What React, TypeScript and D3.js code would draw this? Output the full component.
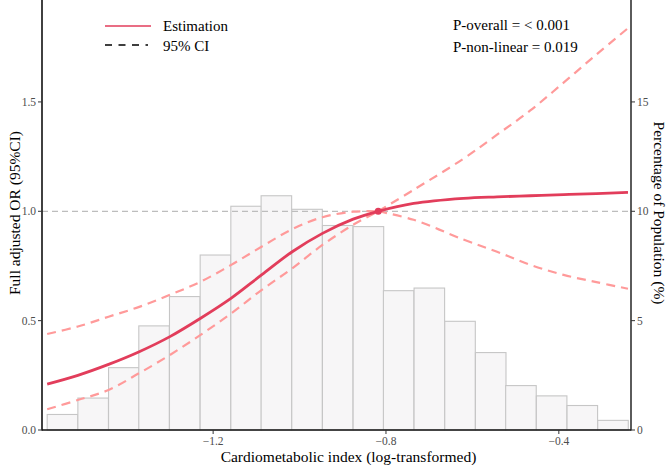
import React from "react";
import * as d3 from "d3";

const W = 669;
const H = 465;

// Histogram (percentage of population)
const binLefts = [-1.584, -1.513, -1.442, -1.372, -1.301, -1.23, -1.159, -1.089, -1.018, -0.947, -0.876, -0.806, -0.735, -0.664, -0.593, -0.523, -0.452, -0.381, -0.31];
const binWidth = 0.0707;
const binPct = [0.71, 1.46, 2.85, 4.76, 6.1, 8.0, 10.23, 10.71, 10.09, 9.35, 9.3, 6.37, 6.49, 4.97, 3.54, 2.03, 1.56, 1.12, 0.44];

// Spline estimate with 95% CI
const xGrid = [-1.584, -1.513, -1.442, -1.371, -1.3, -1.229, -1.158, -1.088, -1.017, -0.947, -0.876, -0.818, -0.736, -0.621, -0.543, -0.466, -0.389, -0.313, -0.24];
const estOR = [0.21, 0.25, 0.3, 0.358, 0.427, 0.511, 0.603, 0.709, 0.815, 0.899, 0.964, 1.0, 1.036, 1.059, 1.066, 1.071, 1.076, 1.081, 1.086];
const upperOR = [0.439, 0.473, 0.518, 0.563, 0.618, 0.678, 0.755, 0.838, 0.918, 0.973, 0.998, 1.0, 1.098, 1.24, 1.35, 1.461, 1.588, 1.717, 1.837];
const lowerOR = [0.095, 0.137, 0.183, 0.26, 0.343, 0.435, 0.533, 0.64, 0.739, 0.846, 0.938, 1.0, 0.961, 0.871, 0.815, 0.755, 0.709, 0.676, 0.646];
const refX = -0.818;
const refOR = 1.0;

const xTicks = [-1.2, -0.8, -0.4];
const yTicks = [0, 0.5, 1.0, 1.5];
const pctTicks = [0, 5, 10, 15];

const legendLabels = ["Estimation", "95% CI"];
const pTexts = ["P-overall = < 0.001", "P-non-linear = 0.019"];

const FONT = "'Liberation Serif', 'Times New Roman', serif";
const EST_COLOR = "#E23D5B";
const CI_COLOR = "#FF9A9A";

export default function App() {
  const left = 42;
  const right = 631;
  const top = 0;
  const bottom = 430;

  const x = d3.scaleLinear().domain([-1.596, -0.233]).range([left, right]);
  const y = d3.scaleLinear().domain([0, 1.966]).range([bottom, top]);
  const yPct = d3.scaleLinear().domain([0, 19.66]).range([bottom, top]);

  const pts = (vals: number[]) => xGrid.map((xv, i) => [xv, vals[i]] as [number, number]);
  const line = d3
    .line<[number, number]>()
    .x((d) => x(d[0]))
    .y((d) => y(d[1]))
    .curve(d3.curveCatmullRom.alpha(0.5));

  const splitPaths = (vals: number[]) => {
    const p = pts(vals);
    const l = p.filter((d) => d[0] <= refX);
    const r = p.filter((d) => d[0] >= refX);
    return [line(l) || "", line(r) || ""];
  };

  const estPath = line(pts(estOR)) || "";
  const upPaths = splitPaths(upperOR);
  const loPaths = splitPaths(lowerOR);

  const titleY = 213;

  return (
    <svg
      width={W}
      height={H}
      style={{ position: "absolute", left: 0, top: 0, background: "#fff" }}
      fontFamily={FONT}
    >
      {/* histogram */}
      <g>
        {binLefts.map((b, i) => (
          <rect
            key={i}
            x={x(b)}
            y={yPct(binPct[i])}
            width={x(b + binWidth) - x(b)}
            height={yPct(0) - yPct(binPct[i])}
            fill="#F7F6F7"
            stroke="#C6C6C6"
            strokeWidth={1.1}
          />
        ))}
      </g>

      {/* reference line */}
      <line x1={left} x2={right} y1={y(1)} y2={y(1)} stroke="#BDBDBD" strokeWidth={1.2} strokeDasharray="6,4" />

      {/* CI */}
      {[...upPaths, ...loPaths].map((d, i) => (
        <path key={i} d={d} fill="none" stroke={CI_COLOR} strokeWidth={2.2} strokeDasharray="9,6" />
      ))}

      {/* estimate */}
      <path d={estPath} fill="none" stroke={EST_COLOR} strokeWidth={2.8} />
      <circle cx={x(refX)} cy={y(refOR)} r={3.5} fill={EST_COLOR} />

      {/* axes */}
      <line x1={left} x2={left} y1={top} y2={bottom + 0.5} stroke="#111" strokeWidth={1.6} />
      <line x1={right} x2={right} y1={top} y2={bottom + 0.5} stroke="#333" strokeWidth={1.6} />
      <line x1={left} x2={right} y1={bottom} y2={bottom} stroke="#111" strokeWidth={1.6} />

      {yTicks.map((t) => (
        <g key={t}>
          <line x1={left - 4} x2={left} y1={y(t)} y2={y(t)} stroke="#333" strokeWidth={1} />
          <text x={left - 6} y={y(t)} dy="0.35em" textAnchor="end" fontSize={11.5} fill="#4D4D4D">
            {d3.format(".1f")(t)}
          </text>
        </g>
      ))}
      {pctTicks.map((t) => (
        <g key={t}>
          <line x1={right} x2={right + 4} y1={yPct(t)} y2={yPct(t)} stroke="#333" strokeWidth={1} />
          <text x={right + 6} y={yPct(t)} dy="0.35em" textAnchor="start" fontSize={11.5} fill="#4D4D4D">
            {t}
          </text>
        </g>
      ))}
      {xTicks.map((t) => (
        <g key={t}>
          <line x1={x(t)} x2={x(t)} y1={bottom} y2={bottom + 4} stroke="#333" strokeWidth={1} />
          <text x={x(t)} y={bottom + 11} dy="0.35em" textAnchor="middle" fontSize={11.5} fill="#4D4D4D">
            {d3.format(".1f")(t)}
          </text>
        </g>
      ))}

      {/* axis titles */}
      <text x={(left + right) / 2 + 12} y={462} textAnchor="middle" fontSize={15.5} fill="#000">
        Cardiometabolic index (log-transformed)
      </text>
      <text
        transform={`translate(20, ${titleY}) rotate(-90)`}
        textAnchor="middle"
        fontSize={15.5}
        fill="#000"
      >
        Full adjusted OR (95%CI)
      </text>
      <text
        transform={`translate(653.5, ${titleY}) rotate(90)`}
        textAnchor="middle"
        fontSize={15.5}
        fill="#000"
      >
        Percentage of Population (%)
      </text>

      {/* legend */}
      <line x1={105} x2={151} y1={26} y2={26} stroke={EST_COLOR} strokeWidth={1.6} />
      <line x1={105} x2={148} y1={45} y2={45} stroke="#000" strokeWidth={1.6} strokeDasharray="7,6.5" />
      {legendLabels.map((l, i) => (
        <text key={l} x={163} y={26 + i * 20} dy="0.35em" fontSize={15} fill="#000">
          {l}
        </text>
      ))}
      {pTexts.map((p, i) => (
        <text key={p} x={453} y={25 + i * 21.5} dy="0.35em" fontSize={15} fill="#000">
          {p}
        </text>
      ))}
    </svg>
  );
}
